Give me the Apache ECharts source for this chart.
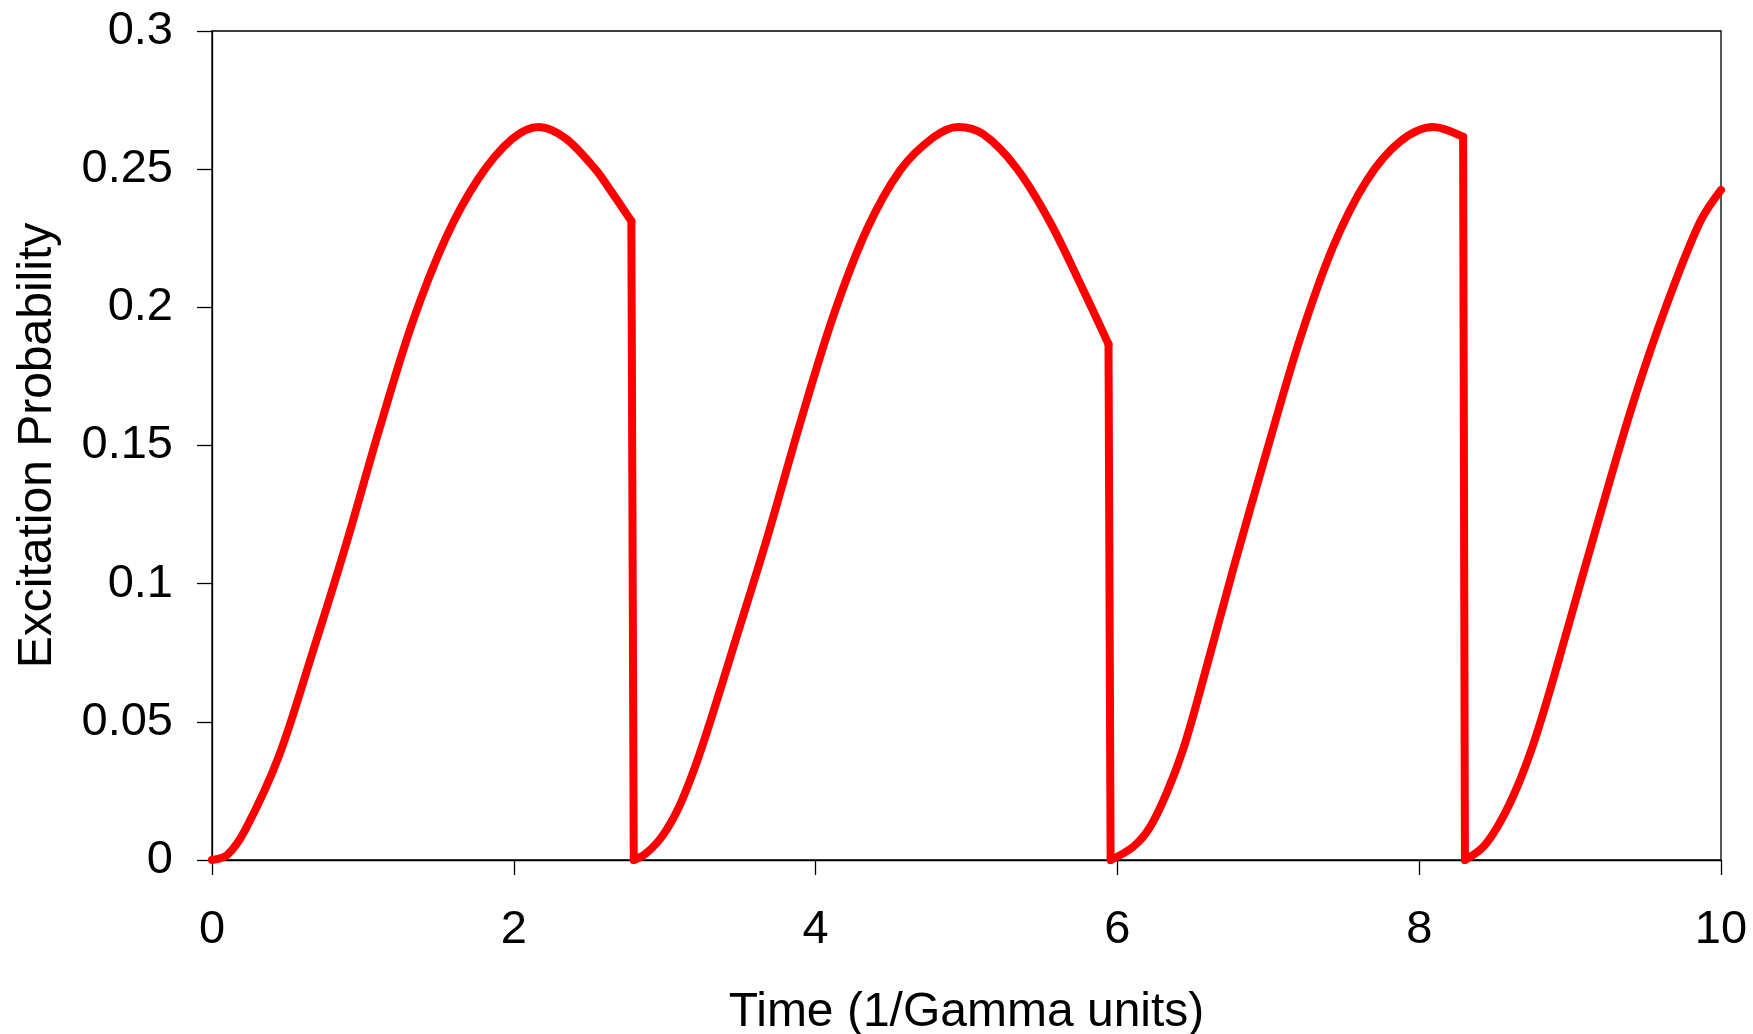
<!DOCTYPE html>
<html>
<head>
<meta charset="utf-8">
<script src="https://cdn.jsdelivr.net/npm/echarts@6/dist/echarts.min.js"></script>
<style>
html,body{margin:0;padding:0;background:#fff;}
#chart{width:1753px;height:1034px;}
</style>
</head>
<body>
<div id="chart"></div>
<script>
// Segment 1 (no-jump evolution from t = 0 until first quantum jump)
const seg1Time = [0, 0.1, 0.221, 0.442, 0.663, 0.884, 1.104, 1.325, 1.546, 1.767, 1.988, 2.165, 2.342, 2.540, 2.651, 2.779];
const seg1Prob = [0, 0.0018, 0.011, 0.0374, 0.0745, 0.1134, 0.155, 0.194, 0.2247, 0.2467, 0.2609, 0.2653, 0.2612, 0.2500, 0.2415, 0.2312];
// Segment 2
const seg2Time = [2.795, 2.872, 2.982, 3.093, 3.203, 3.313, 3.455, 3.676, 3.897, 4.118, 4.338, 4.559, 4.780, 4.946, 5.112, 5.333, 5.554, 5.775, 5.941];
const seg2Prob = [0, 0.0022, 0.0085, 0.019, 0.034, 0.052, 0.077, 0.116, 0.158, 0.197, 0.228, 0.2495, 0.2615, 0.2653, 0.2626, 0.2503, 0.2308, 0.2061, 0.1867];
// Segment 3
const seg3Time = [5.955, 6.105, 6.215, 6.326, 6.436, 6.547, 6.768, 6.989, 7.209, 7.430, 7.651, 7.872, 8.093, 8.291];
const seg3Prob = [0, 0.0048, 0.0118, 0.0242, 0.0401, 0.061, 0.1054, 0.1478, 0.1884, 0.222, 0.2458, 0.26, 0.2653, 0.2617];
// Segment 4
const seg4Time = [8.303, 8.425, 8.535, 8.646, 8.756, 8.866, 8.977, 9.198, 9.418, 9.639, 9.860, 10];
const seg4Prob = [0, 0.0048, 0.0136, 0.026, 0.0419, 0.0613, 0.0825, 0.1249, 0.1655, 0.2008, 0.2308, 0.2425];

const xTicks = [0, 2, 4, 6, 8, 10];
const yTicks = [0, 0.05, 0.1, 0.15, 0.2, 0.25, 0.3];

const segments = [[seg1Time, seg1Prob], [seg2Time, seg2Prob], [seg3Time, seg3Prob], [seg4Time, seg4Prob]];
const zip = (t, p) => t.map((v, i) => [v, p[i]]);

const RED = '#ff0000';
const FONT = "'Liberation Sans', Arial, sans-serif";
const LW = 8;

const series = segments.map(([t, p]) => ({
  type: 'line', data: zip(t, p), smooth: 0.33, showSymbol: false, symbol: 'none',
  lineStyle: { color: RED, width: LW, join: 'round', cap: 'round' }, z: 3, animation: false
}));
// vertical jumps: end of one segment to start of the next
const jumps = [];
for (let k = 0; k < segments.length - 1; k++) {
  const [t, p] = segments[k];
  const [tn, pn] = segments[k + 1];
  jumps.push([t[t.length - 1], p[p.length - 1]]);
  jumps.push([tn[0], pn[0]]);
  jumps.push(null);
}
series.push({
  type: 'line', data: jumps.map(d => d === null ? '-' : d), connectNulls: false, showSymbol: false, symbol: 'none',
  lineStyle: { color: RED, width: LW, join: 'miter', cap: 'round' }, z: 3, animation: false
});

const chart = echarts.init(document.getElementById('chart'), null, { renderer: 'canvas' });
chart.setOption({
  animation: false,
  backgroundColor: '#fff',
  grid: { left: 212, right: 32, top: 31, bottom: 174, containLabel: false, outerBoundsMode: 'none',
          show: true, borderColor: '#000', borderWidth: 1.3, backgroundColor: 'transparent' },
  xAxis: {
    type: 'value', min: xTicks[0], max: xTicks[xTicks.length - 1], interval: xTicks[1] - xTicks[0],
    name: 'Time (1/Gamma units)', nameLocation: 'middle', nameGap: 129,
    nameTextStyle: { fontFamily: FONT, fontSize: 48, color: '#000' },
    axisLine: { show: true, onZero: false, lineStyle: { color: '#000', width: 1.3 } },
    axisTick: { show: true, inside: false, length: 15, lineStyle: { color: '#000', width: 1.3 } },
    axisLabel: { fontFamily: FONT, fontSize: 47, color: '#000', margin: 47 },
    splitLine: { show: false }
  },
  yAxis: {
    type: 'value', min: yTicks[0], max: yTicks[yTicks.length - 1], interval: yTicks[1] - yTicks[0],
    name: 'Excitation Probability', nameLocation: 'middle', nameGap: 150, nameRotate: 90,
    nameTextStyle: { fontFamily: FONT, fontSize: 48, color: '#000' },
    axisLine: { show: true, lineStyle: { color: '#000', width: 1.3 } },
    axisTick: { show: true, inside: false, length: 15, lineStyle: { color: '#000', width: 1.3 } },
    axisLabel: { fontFamily: FONT, fontSize: 47, color: '#000', margin: 39 },
    splitLine: { show: false }
  },
  series: series
});
</script>
</body>
</html>
